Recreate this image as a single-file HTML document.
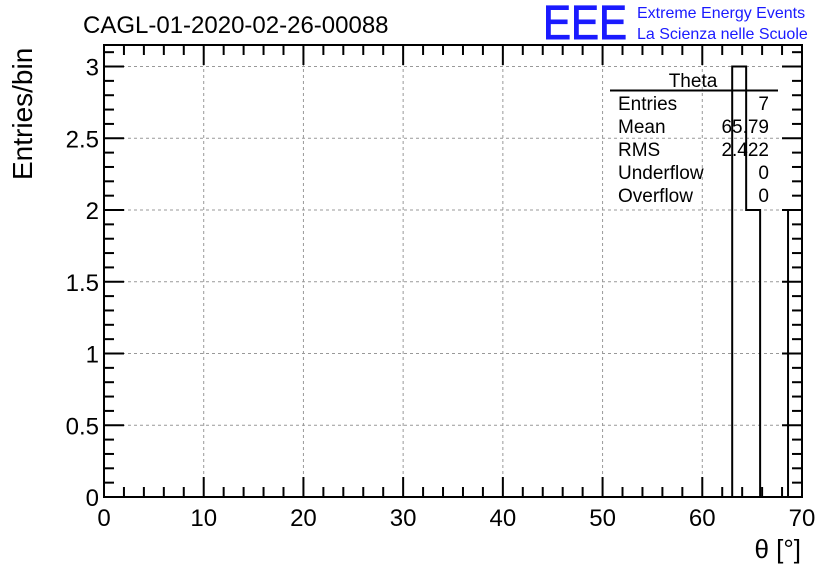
<!DOCTYPE html>
<html><head><meta charset="utf-8"><style>
body{margin:0;background:#fff;}
svg{display:block;font-family:"Liberation Sans",sans-serif;}
</style></head><body>
<svg id="c" width="836" height="572" viewBox="0 0 836 572">
<text x="83" y="33" font-size="24">CAGL-01-2020-02-26-00088</text>
<text x="543" y="39" font-size="48" fill="#1a1aff" stroke="#1a1aff" stroke-width="1" textLength="84" lengthAdjust="spacingAndGlyphs">EEE</text>
<text x="637" y="18" font-size="16" fill="#1a1aff">Extreme Energy Events</text>
<text x="637" y="39" font-size="16" fill="#1a1aff">La Scienza nelle Scuole</text>
<g id="grid"></g>
<g id="bars"></g>
<g id="axes"></g>
<g font-size="19">
<text x="693" y="87" text-anchor="middle">Theta</text>
<line x1="610" y1="90.5" x2="778" y2="90.5" stroke="#000" stroke-width="2"/>
<text x="618" y="110">Entries</text><text x="769" y="110" text-anchor="end">7</text>
<text x="618" y="133">Mean</text><text x="769" y="133" text-anchor="end">65.79</text>
<text x="618" y="156">RMS</text><text x="769" y="156" text-anchor="end">2.422</text>
<text x="618" y="179">Underflow</text><text x="769" y="179" text-anchor="end">0</text>
<text x="618" y="202">Overflow</text><text x="769" y="202" text-anchor="end">0</text>
</g>
<text x="801" y="558" font-size="26" text-anchor="end">θ [°]</text>
<text transform="translate(32,180) rotate(-90)" font-size="28">Entries/bin</text>
</svg>
<script>
const binEdges=[63,64.4,65.8,67.2,68.6,70];
const binCounts=[3,2,0,0,2];
const xTicks=[0,10,20,30,40,50,60,70];
const yTicks=[0,0.5,1,1.5,2,2.5,3];
const yTickLabels=["0","0.5","1","1.5","2","2.5","3"];
const L=104,R=802,T=45,B=497,XMAX=70,YMAX=3.15;
const sx=v=>L+(v/XMAX)*(R-L), sy=v=>B-(v/YMAX)*(B-T);
const NS="http://www.w3.org/2000/svg";
function mk(t,a,p){const e=document.createElementNS(NS,t);for(const k in a)e.setAttribute(k,a[k]);p.appendChild(e);return e;}
const grid=document.getElementById('grid'),axes=document.getElementById('axes'),bars=document.getElementById('bars');
xTicks.forEach(v=>{if(v>0&&v<XMAX){const g=mk('line',{x1:sx(v),x2:sx(v),y1:T,y2:B,stroke:'#999','stroke-dasharray':'3,3'},grid);

}});
yTicks.forEach(v=>{if(v>0){const g=mk('line',{x1:L,x2:R,y1:sy(v),y2:sy(v),stroke:'#999','stroke-dasharray':'3,3'},grid);

}});
let d='M'+sx(binEdges[0])+','+sy(0);
binCounts.forEach((c,i)=>{d+=' L'+sx(binEdges[i])+','+sy(c)+' L'+sx(binEdges[i+1])+','+sy(c);});
d+=' L'+sx(binEdges[binEdges.length-1])+','+sy(0);
const h=mk('path',{d:d,fill:'none',stroke:'#000','stroke-width':2},bars);


const f=mk('rect',{x:L,y:T,width:R-L,height:B-T,fill:'none',stroke:'#000','stroke-width':2},axes);


for(let v=0;v<=XMAX+1e-9;v+=2){const maj=Math.abs(v%10)<1e-9,len=maj?20:10;
mk('line',{x1:sx(v),x2:sx(v),y1:B,y2:B-len,stroke:'#000','stroke-width':2},axes);
mk('line',{x1:sx(v),x2:sx(v),y1:T,y2:T+len,stroke:'#000','stroke-width':2},axes);}
for(let i=0;i<=31;i++){const v=i*0.1,maj=i%5==0,len=maj?20:10;
mk('line',{x1:L,x2:L+len,y1:sy(v),y2:sy(v),stroke:'#000','stroke-width':2},axes);
mk('line',{x1:R,x2:R-len,y1:sy(v),y2:sy(v),stroke:'#000','stroke-width':2},axes);}
xTicks.forEach(v=>{const t=mk('text',{x:sx(v),y:526,'font-size':24,'text-anchor':'middle'},axes);t.textContent=v;

});
yTicks.forEach((v,i)=>{const t=mk('text',{x:99,y:sy(v)+9,'font-size':24,'text-anchor':'end'},axes);t.textContent=yTickLabels[i];

});
</script>
</body></html>
